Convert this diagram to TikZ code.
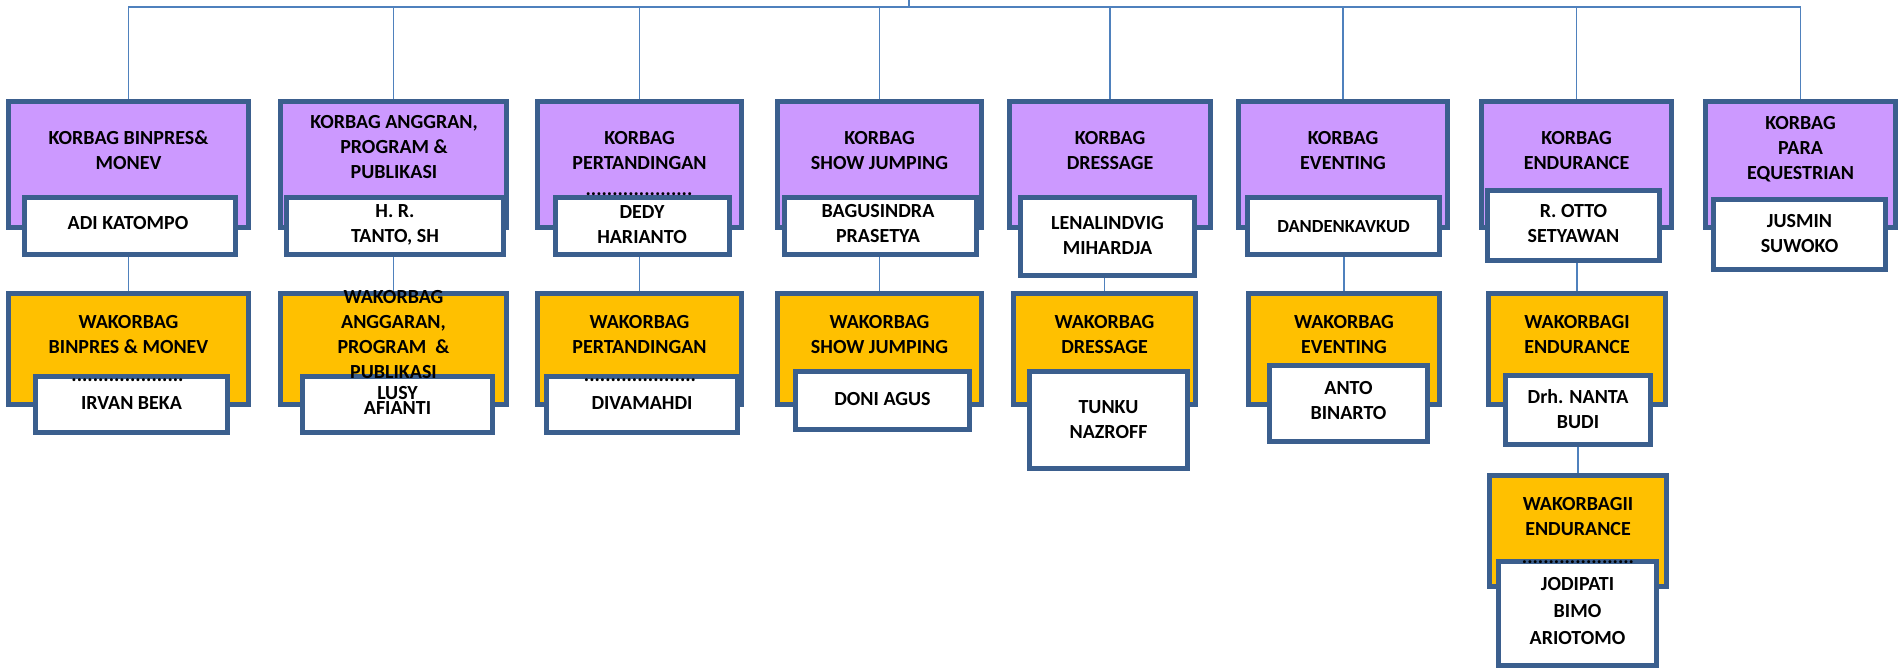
\documentclass[tikz,border=0pt]{standalone}
\usepackage{fontspec}
\setmainfont{Carlito}
\usepackage{tikz}
\usetikzlibrary{backgrounds}
\definecolor{korfill}{HTML}{CC99FF}
\definecolor{wakfill}{HTML}{FFC000}
\definecolor{boxline}{HTML}{3B5F8E}
\definecolor{linkblue}{HTML}{4F81BD}

\begin{document}
\begin{tikzpicture}[x=1pt,y=-1pt,
		box/.style={draw=boxline, line width=4.5pt, inner sep=0pt, outer sep=0pt},
		kor/.style={box, fill=korfill},
		wak/.style={box, fill=wakfill},
		nama/.style={box, fill=white},
		txt/.style={font=\fontsize{20}{25}\selectfont\bfseries, align=center, inner sep=0pt},
		titik/.style={font=\fontsize{20}{25}\selectfont\bfseries, inner sep=0pt},
		link/.style={draw=linkblue, line width=1.7pt}]
			\useasboundingbox (0,0) rectangle (1903,671);
			\coordinate (root) at (909,0);
			\coordinate (bus) at (909,7);
			% korbag
			\node[kor, minimum width=240, minimum height=126] (k1) at (128.5,164.5) {};
			\node[kor, minimum width=226, minimum height=126] (k2) at (393.5,164.5) {};
			\node[kor, minimum width=204, minimum height=126] (k3) at (639.5,164.5) {};
			\node[kor, minimum width=204, minimum height=126] (k4) at (879.5,164.5) {};
			\node[kor, minimum width=201, minimum height=126] (k5) at (1110,164.5) {};
			\node[kor, minimum width=209, minimum height=126] (k6) at (1343,164.5) {};
			\node[kor, minimum width=190, minimum height=126] (k7) at (1576.5,164.5) {};
			\node[kor, minimum width=190, minimum height=126] (k8) at (1800.5,164.5) {};
			\node[nama, minimum width=211, minimum height=57] (n1) at (130,226) {};
			\node[nama, minimum width=217, minimum height=57] (n2) at (395,226) {};
			\node[nama, minimum width=174, minimum height=57] (n3) at (642.5,226) {};
			\node[nama, minimum width=192, minimum height=57] (n4) at (880.5,226) {};
			\node[nama, minimum width=174, minimum height=78] (n5) at (1107.5,236.5) {};
			\node[nama, minimum width=192, minimum height=57] (n6) at (1343.5,226) {};
			\node[nama, minimum width=172, minimum height=70] (n7) at (1573.5,225.5) {};
			\node[nama, minimum width=172, minimum height=70] (n8) at (1799.5,234.5) {};
			% wakorbag
			\node[wak, minimum width=240, minimum height=111] (w1) at (128.5,349) {};
			\node[wak, minimum width=226, minimum height=111] (w2) at (393.5,349) {};
			\node[wak, minimum width=204, minimum height=111] (w3) at (639.5,349) {};
			\node[wak, minimum width=204, minimum height=111] (w4) at (879.5,349) {};
			\node[wak, minimum width=182, minimum height=111] (w5) at (1104.5,349) {};
			\node[wak, minimum width=191, minimum height=111] (w6) at (1344,349) {};
			\node[wak, minimum width=177, minimum height=111] (w7) at (1577,349) {};
			\node[nama, minimum width=192, minimum height=56] (m1) at (131.5,404.5) {};
			\node[nama, minimum width=190, minimum height=56] (m2) at (397.5,404.5) {};
			\node[nama, minimum width=191, minimum height=56] (m3) at (642,404.5) {};
			\node[nama, minimum width=174, minimum height=58] (m4) at (882.5,400.5) {};
			\node[nama, minimum width=158, minimum height=97] (m5) at (1108.5,420) {};
			\node[nama, minimum width=158, minimum height=76] (m6) at (1348.5,403.5) {};
			\node[nama, minimum width=145, minimum height=69] (m7) at (1578,410) {};
			\node[wak, minimum width=177, minimum height=111] (v) at (1578,531) {};
			\node[nama, minimum width=158, minimum height=104] (x) at (1577.5,613.5) {};
			% garis
			\begin{pgfonlayer}{background}
				\draw[link] (root) -- (bus);
				\foreach \i in {1,...,8} \draw[link] (bus) -| (k\i.north);
				\foreach \i in {1,...,7} \draw[link] (w\i.north) -- (w\i.north |- n\i.south);
				\draw[link] (v.north) -- (m7.south);
			\end{pgfonlayer}
			% teks
			\node[txt] (tk1) at (128.5,150.5) {KORBAG BINPRES\&\\MONEV};
			\node[txt] (tk2) at (394,147) {KORBAG ANGGRAN,\\PROGRAM \&\\PUBLIKASI};
			\node[txt] (tk3) at (639.5,150.5) {KORBAG\\PERTANDINGAN};
			\node[txt] (tk4) at (879.5,150.5) {KORBAG\\SHOW JUMPING};
			\node[txt] (tk5) at (1110,150.5) {KORBAG\\DRESSAGE};
			\node[txt] (tk6) at (1343,150.5) {KORBAG\\EVENTING};
			\node[txt] (tk7) at (1576.5,150.5) {KORBAG\\ENDURANCE};
			\node[txt] (tk8) at (1800.5,149.5) {KORBAG\\PARA\\EQUESTRIAN};
			\node[txt] (tn1) at (128,223) {ADI KATOMPO};
			\node[txt] (tn2) at (395,224.5) {H. R.\\TANTO, SH};
			\node[txt] (tn3) at (642,224.5) {DEDY\\HARIANTO};
			\node[txt] (tn4) at (878,223.5) {BAGUSINDRA\\PRASETYA};
			\node[txt] (tn5) at (1107.5,236) {LENALINDVIG\\MIHARDJA};
			\node[txt, font=\fontsize{18.5}{23}\selectfont\bfseries] (tn6) at (1343.5,227) {DANDENKAVKUD};
			\node[txt] (tn7) at (1573.5,224) {R. OTTO\\SETYAWAN};
			\node[txt] (tn8) at (1799.5,233.5) {JUSMIN\\SUWOKO};
			\node[txt] (tw1) at (128.5,334.5) {WAKORBAG\\BINPRES \& MONEV};
			\node[txt] (tw2) at (393.5,334.5) {WAKORBAG\\ANGGARAN,\\PROGRAM\ \ \&\\PUBLIKASI};
			\node[txt] (tw3) at (639.5,334.5) {WAKORBAG\\PERTANDINGAN};
			\node[txt] (tw4) at (879.5,334.5) {WAKORBAG\\SHOW JUMPING};
			\node[txt] (tw5) at (1104.5,334.5) {WAKORBAG\\DRESSAGE};
			\node[txt] (tw6) at (1344,334.5) {WAKORBAG\\EVENTING};
			\node[txt] (tw7) at (1577,334.5) {WAKORBAGI\\ENDURANCE};
			\node[txt] (tm1) at (131.5,403) {IRVAN BEKA};
			\node[txt, font=\fontsize{20}{15}\selectfont\bfseries] (tm2) at (397.5,400.5) {LUSY\\AFIANTI};
			\node[txt] (tm3) at (642,403) {DIVAMAHDI};
			\node[txt] (tm4) at (882.5,399) {DONI AGUS};
			\node[txt] (tm5) at (1108.5,420) {TUNKU\\NAZROFF};
			\node[txt] (tm6) at (1348.5,401) {ANTO\\BINARTO};
			\node[txt] (tm7) at (1578,409.5) {Drh. NANTA\\BUDI};
			\node[txt] (tv) at (1578,516.5) {WAKORBAGII\\ENDURANCE};
			\node[txt, font=\fontsize{20}{27}\selectfont\bfseries] (tx) at (1577.5,611.5) {JODIPATI\\BIMO\\ARIOTOMO};
			% titik
			\node[titik] (d1) at (639,194) {....................};
			\node[titik] (d2) at (127.5,380) {.....................};
			\node[titik] (d3) at (640,380) {.....................};
			\node[titik] (d4) at (1578,562) {.....................};
		\end{tikzpicture}
\end{document}
